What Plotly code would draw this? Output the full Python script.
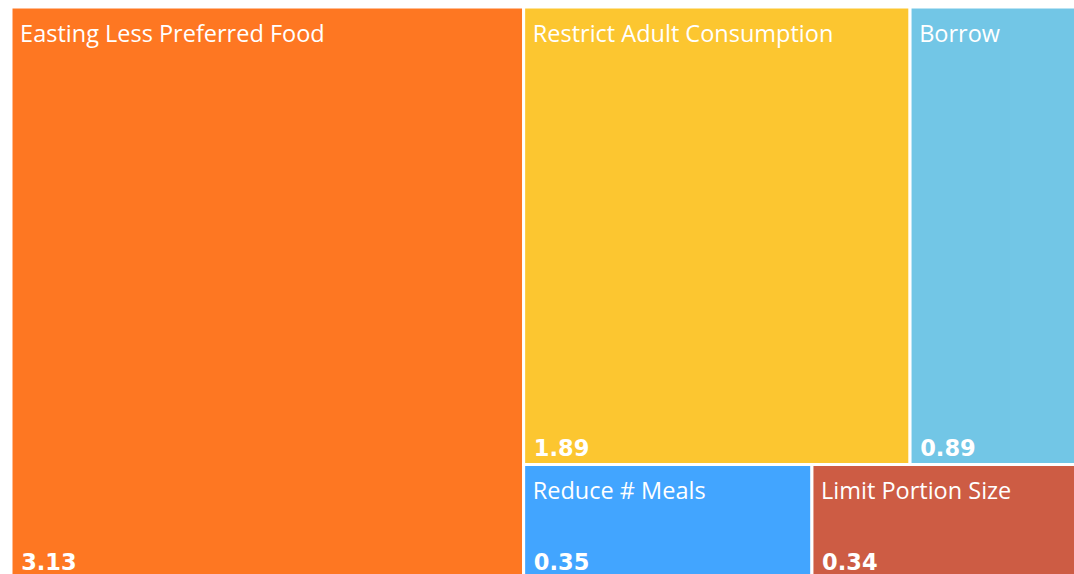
import plotly.graph_objects as go

labels = ["Easting Less Preferred Food", "Restrict Adult Consumption", "Borrow",
          "Reduce # Meals", "Limit Portion Size"]
values = [3.13, 1.89, 0.89, 0.35, 0.34]
colors = ["#FE7722", "#FCC630", "#72C6E6", "#42A5FF", "#CD5C44"]
parents = [""] * len(labels)

NB = "\u00a0"
label_tpl = (NB + "<br>") * 3 + "<span style='font-size:23.5px'>" + NB + "%{label}</span>"
value_tpl = "<span style='font-size:22.5px'>" + NB + "<b>%{value}</b></span>"

fig = go.Figure()
fig.add_trace(go.Treemap(
    labels=labels, parents=parents, values=values,
    marker=dict(colors=colors, line=dict(color="white", width=3),
                pad=dict(t=0, l=0, r=0, b=0)),
    texttemplate=label_tpl,
    textposition="top left",
    textfont=dict(family="Open Sans", size=6.3, color="white"),
    sort=True,
    tiling=dict(packing="squarify", squarifyratio=1.5, pad=0),
    pathbar=dict(visible=False),
    hoverinfo="label+value",
))
fig.add_trace(go.Treemap(
    labels=labels, parents=parents, values=values,
    marker=dict(colors=["rgba(0,0,0,0)"] * len(labels), line=dict(width=0),
                pad=dict(t=0, l=0, r=0, b=0)),
    texttemplate=value_tpl,
    textposition="bottom left",
    textfont=dict(family="DejaVu Sans", size=22.5, color="white"),
    sort=True,
    tiling=dict(packing="squarify", squarifyratio=1.5, pad=0),
    pathbar=dict(visible=False),
    hoverinfo="skip",
))
fig.update_layout(
    width=1092, height=578,
    margin=dict(l=11, r=0, t=7, b=0),
    paper_bgcolor="white",
    showlegend=False,
)
fig.write_html(
    "out.html",
    config={"displayModeBar": False},
    post_script="document.body.style.margin='0';document.body.style.overflow='hidden';",
)
